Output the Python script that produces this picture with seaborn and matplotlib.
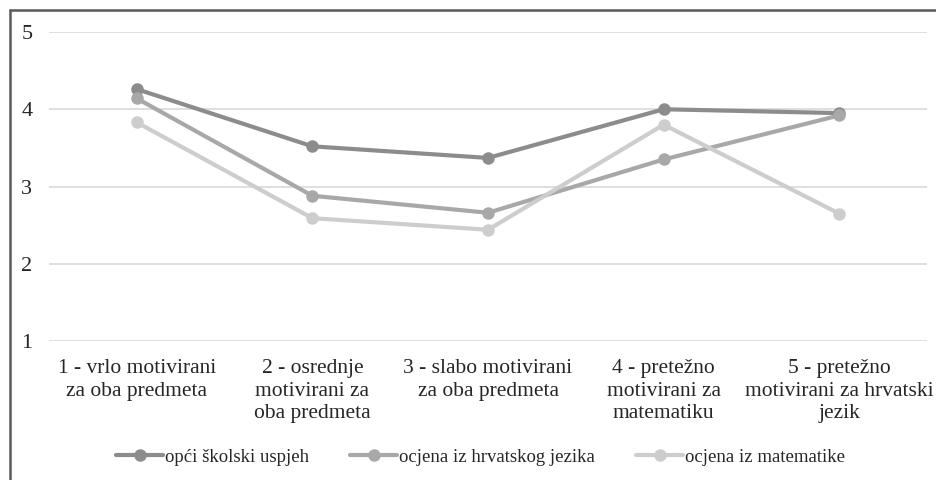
import matplotlib.pyplot as plt
import numpy as np
import pandas as pd
import seaborn as sns
from matplotlib.lines import Line2D

categories = [
    "1 - vrlo motivirani\nza oba predmeta",
    "2 - osrednje\nmotivirani za\noba predmeta",
    "3 - slabo motivirani\nza oba predmeta",
    "4 - pretežno\nmotivirani za\nmatematiku",
    "5 - pretežno\nmotivirani za hrvatski\njezik",
]
series_names = ["opći školski uspjeh", "ocjena iz hrvatskog jezika", "ocjena iz matematike"]
opci_uspjeh = [4.26, 3.52, 3.37, 4.00, 3.95]
hrvatski = [4.14, 2.88, 2.66, 3.35, 3.92]
matematika = [3.83, 2.59, 2.44, 3.80, 2.65]

colors = ["#8c8c8c", "#a8a8a8", "#cdcdcd"]

rows = []
for name, vals in zip(series_names, [opci_uspjeh, hrvatski, matematika]):
    for i, v in enumerate(vals):
        rows.append({"grupa": i, "vrijednost": v, "serija": name})
df = pd.DataFrame(rows)

sns.set_style("white")
plt.rcParams["font.family"] = ["Liberation Serif", "DejaVu Serif"]

fig = plt.figure(figsize=(9.37, 4.8), dpi=100)
ax = fig.add_axes([49 / 937, 1 - 341 / 480, (927 - 49) / 937, (341 - 32) / 480])

sns.lineplot(
    data=df, x="grupa", y="vrijednost", hue="serija", hue_order=series_names,
    palette=colors, marker="o", markersize=9, markeredgewidth=0,
    linewidth=3, ax=ax, legend=False, zorder=3,
)

ax.set_xlim(-0.5, 4.5)
ax.set_ylim(1, 5)
ax.set_yticks([1, 2, 3, 4, 5])
ax.set_xticks(np.arange(len(categories)))
ax.set_xticklabels(categories, fontsize=15.5, color="#262626", linespacing=1.25)
ax.tick_params(axis="y", labelsize=16, labelcolor="#262626", length=0, pad=12)
ax.tick_params(axis="x", length=0, pad=13)
ax.yaxis.grid(True, color="#d9d9d9", linewidth=1.2)
ax.set_axisbelow(True)
for s in ax.spines.values():
    s.set_visible(False)
ax.set_xlabel("")
ax.set_ylabel("")

handles = [Line2D([], [], color=c, marker="o", markersize=9, markeredgewidth=0, linewidth=3)
           for c in colors]
fig.legend(handles, series_names, loc="center", bbox_to_anchor=(0.513, 1 - 457 / 480),
           ncol=3, frameon=False, fontsize=13.5, handlelength=2.5, handletextpad=0.1,
           columnspacing=2.2, labelcolor="#262626")

# outer border
fig.add_artist(Line2D([10 / 937, 10 / 937], [0, 1 - 10 / 480], color="#595959", linewidth=1.8,
                      transform=fig.transFigure))
fig.add_artist(Line2D([10 / 937, 1], [1 - 10 / 480, 1 - 10 / 480], color="#595959", linewidth=1.8,
                      transform=fig.transFigure))

fig.savefig("out.png", dpi=100)
